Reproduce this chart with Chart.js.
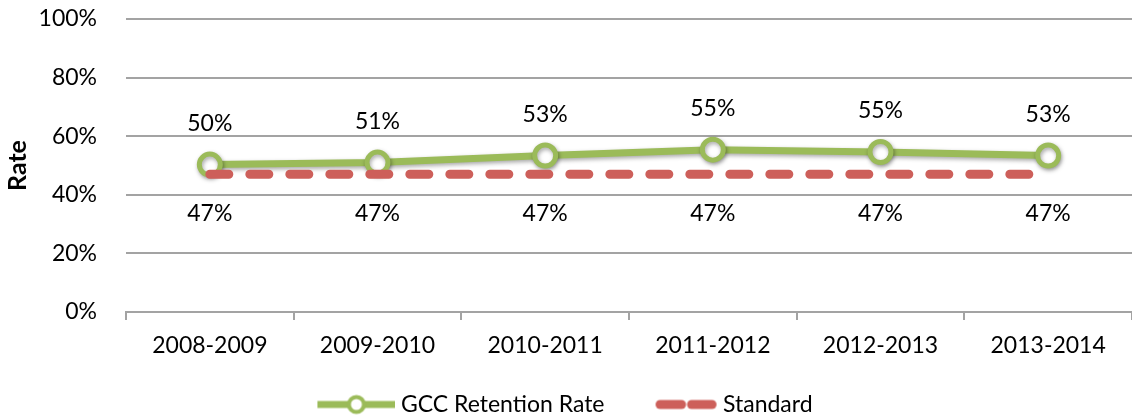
<!DOCTYPE html>
<html><head><meta charset="utf-8">
<script src="https://cdn.jsdelivr.net/npm/chart.js@4.4.1/dist/chart.umd.min.js"></script>
<style>html,body{margin:0;padding:0;background:#fff;}#wrap{width:1132px;height:418px;}</style>
</head><body><div id="wrap"><canvas id="c" width="1132" height="418"></canvas></div>
<script>
const categories = ['2008-2009','2009-2010','2010-2011','2011-2012','2012-2013','2013-2014'];
const retentionRate = [50.3, 51.0, 53.4, 55.4, 54.6, 53.4];
const standardRate = [47, 47, 47, 47, 47, 47];
const yTickValues = [0, 20, 40, 60, 80, 100];
const seriesNames = ['GCC Retention Rate', 'Standard'];
const axisTitle = 'Rate';

const GREEN = '#9BBB59';
const RED = '#CD5F5A';
const GRID = '#A3A3A3';
const FONT = 'Lato, "Open Sans", sans-serif';
const FS = 23;

function greenSymbol(){
  const c = document.createElement('canvas'); c.width = 82; c.height = 24;
  const g = c.getContext('2d');
  g.strokeStyle = GREEN; g.lineWidth = 7; g.lineCap = 'butt';
  g.beginPath(); g.moveTo(4, 12); g.lineTo(82, 12); g.stroke();
  g.beginPath(); g.arc(43, 12, 7.5, 0, Math.PI*2); g.fillStyle = '#fff'; g.fill();
  g.lineWidth = 4; g.stroke();
  return c;
}
function redSymbol(){
  const c = document.createElement('canvas'); c.width = 82; c.height = 24;
  const g = c.getContext('2d');
  g.strokeStyle = RED; g.lineWidth = 9; g.lineCap = 'round';
  g.beginPath(); g.moveTo(24.5, 12); g.lineTo(46, 12); g.stroke();
  g.beginPath(); g.moveTo(56, 12); g.lineTo(76.5, 12); g.stroke();
  return c;
}
const legendSymbols = [greenSymbol(), redSymbol()];

const labelPlugin = {
  id: 'valueLabels',
  afterDatasetsDraw(chart){
    const ctx = chart.ctx;
    ctx.save();
    ctx.font = FS + 'px ' + FONT;
    ctx.fillStyle = '#000';
    ctx.textAlign = 'center';
    ctx.textBaseline = 'middle';
    chart.data.datasets.forEach((ds, di) => {
      const meta = chart.getDatasetMeta(di);
      const off = di === 0 ? -41 : 39;
      meta.data.forEach((pt, i) => {
        ctx.fillText(Math.round(ds.data[i]) + '%', pt.x, pt.y + off);
      });
    });
    ctx.restore();
  }
};
const shadowPlugin = {
  id: 'markerShadow',
  beforeDatasetDraw(chart, args){
    if (args.index === 0){
      const ctx = chart.ctx; ctx.save();
      ctx.shadowColor = 'rgba(0,0,0,0.35)'; ctx.shadowBlur = 4; ctx.shadowOffsetX = 1; ctx.shadowOffsetY = 2;
    }
  },
  afterDatasetDraw(chart, args){
    if (args.index === 0) chart.ctx.restore();
  }
};

new Chart(document.getElementById('c'), {
  type: 'line',
  data: {
    labels: categories,
    datasets: [
      {
        label: seriesNames[0], data: retentionRate, order: 2,
        borderColor: GREEN, borderWidth: 7, backgroundColor: '#fff',
        pointRadius: 10.5, pointBorderWidth: 5, pointBorderColor: GREEN, pointBackgroundColor: '#fff',
        pointHoverRadius: 10.5, tension: 0, fill: false, clip: false
      },
      {
        label: seriesNames[1], data: standardRate, order: 1,
        borderColor: RED, borderWidth: 9, borderDash: [19, 21], borderCapStyle: 'round',
        pointRadius: 0, pointHoverRadius: 0, tension: 0, fill: false, clip: false
      }
    ]
  },
  options: {
    responsive: false, animation: false, devicePixelRatio: 1,
    layout: { autoPadding: false, padding: { top: 19, right: 0, left: 0, bottom: -8 } },
    plugins: {
      tooltip: { enabled: false },
      legend: {
        position: 'bottom',
        labels: {
          usePointStyle: true, pointStyleWidth: 70, padding: 37,
          color: '#000', font: { family: FONT, size: FS },
          sort: (a, b) => a.datasetIndex - b.datasetIndex,
          generateLabels: (chart) => chart.data.datasets.map((ds, i) => ({
            text: ds.label, pointStyle: legendSymbols[i], fillStyle: 'transparent',
            strokeStyle: 'transparent', lineWidth: 0, hidden: false, datasetIndex: i, fontColor: '#000'
          }))
        }
      }
    },
    scales: {
      x: {
        offset: true,
        grid: { offset: true, drawOnChartArea: false, drawTicks: true, tickLength: 8, color: GRID, lineWidth: 2 },
        border: { display: true, color: GRID, width: 2 },
        ticks: { color: '#000', font: { family: FONT, size: FS }, padding: 12, maxRotation: 0 },
        afterFit: (s) => {
          const lg = s.chart.legend;
          s.height = s.chart.height + 8 - (lg ? lg.height : 0) - 312;
          s.paddingLeft = 0; s.paddingRight = 0;
        }
      },
      y: {
        min: 0, max: 100,
        afterBuildTicks: (s) => { s.ticks = yTickValues.map(v => ({ value: v })); },
        ticks: { color: '#000', font: { family: FONT, size: FS }, padding: 29, callback: (v) => v + '%' },
        grid: { color: GRID, lineWidth: 2, drawTicks: false },
        border: { display: false },
        title: { display: true, text: axisTitle, color: '#000', font: { family: FONT, size: 25, weight: 'bold' }, padding: { top: 3, bottom: 4 } },
        afterFit: (s) => { s.width = 126; s.paddingTop = 0; s.paddingBottom = 0; }
      }
    }
  },
  plugins: [labelPlugin, shadowPlugin]
});
</script></body></html>
